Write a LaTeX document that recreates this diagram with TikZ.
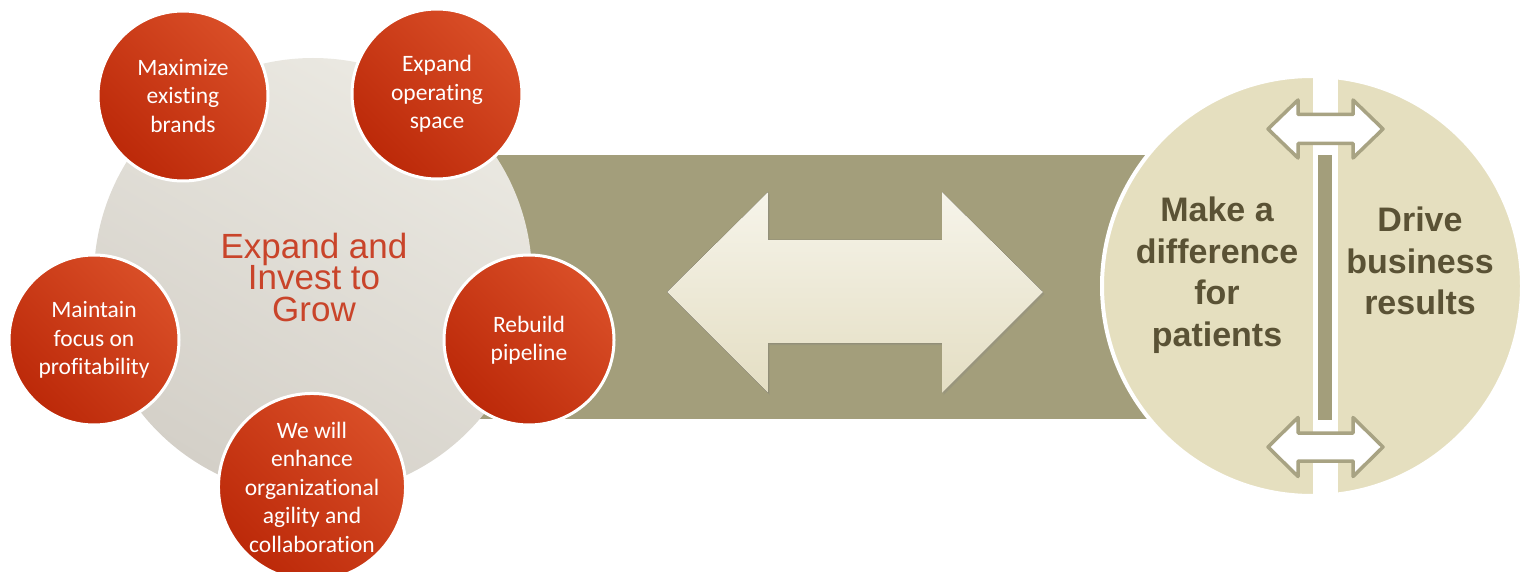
\documentclass[tikz,border=0pt]{standalone}
\usepackage{fontspec}
\setmainfont{Liberation Sans}
\newfontfamily\ballfont[Ligatures=NoCommon]{Carlito}
\usepackage{tikz}
\usetikzlibrary{shadows}

\definecolor{bandolive}{HTML}{A39E7B}
\definecolor{rimolive}{HTML}{A8A383}
\definecolor{goalsand}{HTML}{E5DFBF}
\definecolor{goaltext}{HTML}{5A5235}
\definecolor{hubred}{HTML}{C9442A}
\definecolor{ballhi}{HTML}{D94E27}
\definecolor{balllo}{HTML}{BC2909}
\definecolor{hubhi}{HTML}{EBE9E2}
\definecolor{hublo}{HTML}{D4D0C8}
\definecolor{arrowhi}{HTML}{F6F4EA}
\definecolor{arrowlo}{HTML}{E4DEC3}

\begin{document}
\begin{tikzpicture}[x=1pt, y=1pt,
  ball/.style={circle, draw=white, line width=3pt, minimum size=170pt, inner sep=0pt,
    top color=ballhi, bottom color=balllo, shading angle=-45,
    text=white, align=center, font={\ballfont\fontsize{23.5}{28.5}\selectfont}},
  goaltxt/.style={text=goaltext, align=center, font={\bfseries\fontsize{34}{41.5}\selectfont}},
  smallarrow/.style={draw=rimolive, fill=white, line width=3.5pt, line join=round}]
  \useasboundingbox (0,0) rectangle (1526,571);

  % band behind everything
  \fill[bandolive] (480,152) rectangle (1200,416);

  % hub
  \node[circle, minimum size=438pt, inner sep=0pt, top color=hubhi, bottom color=hublo, shading angle=-30] (hub) at (313,294) {};

  % big double arrow
  \fill[top color=arrowhi, bottom color=arrowlo, drop shadow={shadow xshift=1.5pt, shadow yshift=-2pt, opacity=0.25}]
    (667,279) -- (768,379) -- (768,331) -- (942,331) -- (942,379) -- (1043,279)
    -- (942,178) -- (942,228) -- (768,228) -- (768,178) -- cycle;

  % goals disc, cut by a white strip
  \node[circle, fill=goalsand, draw=white, line width=4pt, minimum size=420pt, inner sep=0pt] (goals) at (1312,285) {};
  \fill[white] (1313,60) rectangle (1338,510);
  \fill[bandolive] (1318,151) rectangle (1332,416);
  \foreach \cy/\hh/\sh in {442/29/14.5, 124/29.5/14} {
    \draw[smallarrow] (1268,\cy) -- (1298,\cy+\hh) -- (1298,\cy+\sh) -- (1353,\cy+\sh) -- (1353,\cy+\hh)
      -- (1383,\cy) -- (1353,\cy-\hh) -- (1353,\cy-\sh) -- (1298,\cy-\sh) -- (1298,\cy-\hh) -- cycle;
  }

  % red balls
  \node[ball] (brands) at (183,475) {Maximize\\existing\\brands};
  \node[ball] (space) at (437,477) {Expand\\operating\\space};
  \node[ball] (profit) at (94,231) {Maintain\\focus on\\profitability};
  \node[ball] (pipeline) at (529,231) {Rebuild\\pipeline};
  \node[ball] (agility) at (312,84) {We will\\enhance\\organizational\\agility and\\collaboration};

  \node[text=hubred, align=center, font={\fontsize{35}{31.5}\selectfont}] (hubtitle) at (314,294) {Expand and\\Invest to\\Grow};

  \node[goaltxt] (patients) at (1217,296) {Make a\\difference\\for\\patients};
  \node[goaltxt] (results) at (1420,310) {Drive\\business\\results};
\end{tikzpicture}
\end{document}
